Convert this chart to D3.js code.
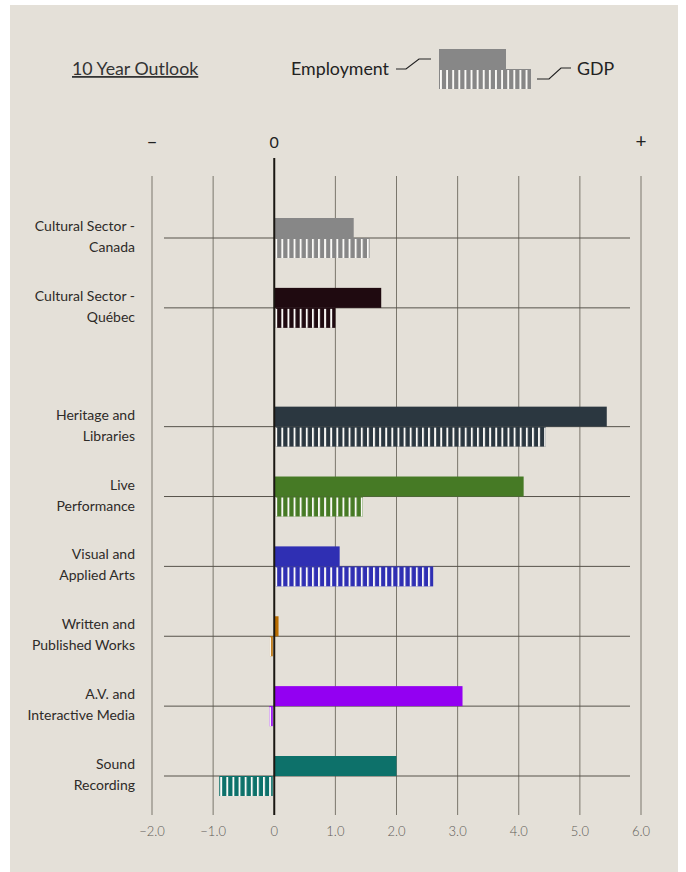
<!DOCTYPE html>
<html>
<head>
<meta charset="utf-8">
<script src="https://cdn.jsdelivr.net/npm/d3@7"></script>
<style>
  body { margin: 0; background: #fff; font-family: Lato, sans-serif; }
  svg { display: block; }
</style>
</head>
<body>
<div id="chart"></div>
<script>
// Sectors, top to bottom (two label lines each)
const categories = [
  ['Cultural Sector -', 'Canada'],
  ['Cultural Sector -', 'Québec'],
  ['Heritage and', 'Libraries'],
  ['Live', 'Performance'],
  ['Visual and', 'Applied Arts'],
  ['Written and', 'Published Works'],
  ['A.V. and', 'Interactive Media'],
  ['Sound', 'Recording']
];
// 'total' rows sit apart from the sub-sector rows
const groups = ['total', 'total', 'sub', 'sub', 'sub', 'sub', 'sub', 'sub'];
const employment = [1.3, 1.75, 5.44, 4.08, 1.07, 0.07, 3.08, 2.0];
const gdp = [1.56, 1.0, 4.44, 1.45, 2.6, -0.07, -0.08, -0.9];
const colors = ['#878787', '#1f0a10', '#2b3740', '#467a25', '#2f2fb3', '#b96d00', '#9300f2', '#0d716a'];
const xTicks = [-2, -1, 0, 1, 2, 3, 4, 5, 6];

const W = 686, H = 872;
const svg = d3.select('#chart').append('svg').attr('width', W).attr('height', H);

svg.append('rect').attr('x', 10).attr('y', 5).attr('width', 668).attr('height', H - 5).attr('fill', '#e4e0d8');

const x = d3.scaleLinear().domain([-2, 6]).range([152, 641]);
// row index with a gap between the totals and the sub-sectors
const rowIdx = categories.map((c, i) => i + (groups[i] === 'sub' ? 0.7 : 0));
const y = d3.scaleLinear().domain([0, d3.max(rowIdx)]).range([238, 776]);

const barH = 20;
const step = x(0.1) - x(0);
const stripeW = 1.9;

// GDP stripe overlay
const defs = svg.append('defs');
const pat = defs.append('pattern')
  .attr('id', 'stripes')
  .attr('patternUnits', 'userSpaceOnUse')
  .attr('x', x(0) + 1)
  .attr('y', 0)
  .attr('width', step)
  .attr('height', 10);
pat.append('rect').attr('x', 0).attr('y', 0).attr('width', stripeW).attr('height', 10).attr('fill', '#faf9f6');

// Vertical grid
const gridTop = 176, gridBot = 815;
svg.append('g').selectAll('line')
  .data(xTicks.filter(d => d !== 0))
  .join('line')
  .attr('x1', d => x(d)).attr('x2', d => x(d))
  .attr('y1', gridTop).attr('y2', gridBot)
  .attr('stroke', '#7a766c').attr('stroke-width', 1);

// Row lines
svg.append('g').selectAll('line')
  .data(rowIdx)
  .join('line')
  .attr('x1', 164).attr('x2', 630)
  .attr('y1', d => y(d)).attr('y2', d => y(d))
  .attr('stroke', '#57534b').attr('stroke-width', 1);

// Bottom axis labels
svg.append('g').selectAll('text')
  .data(xTicks)
  .join('text')
  .attr('x', d => x(d)).attr('y', 836)
  .attr('text-anchor', 'middle')
  .attr('font-size', 13).attr('font-weight', 300)
  .attr('fill', '#5e5b57')
  .text(d => d === 0 ? '0' : d3.format('.1f')(d));

// Top markers
svg.append('g').selectAll('text')
  .data([[-2, '–'], [0, '0'], [6, '+']])
  .join('text')
  .attr('x', d => x(d[0])).attr('y', 148)
  .attr('text-anchor', 'middle')
  .attr('font-size', d => d[0] === 0 ? 16 : 19)
  .attr('fill', '#222')
  .text(d => d[1]);

// Bars
const rows = svg.append('g').selectAll('g')
  .data(categories.map((c, i) => ({ label: c, emp: employment[i], gdp: gdp[i], color: colors[i], yy: y(rowIdx[i]) })))
  .join('g');

rows.append('rect')
  .attr('x', d => Math.min(x(0), x(d.emp)))
  .attr('y', d => d.yy - barH)
  .attr('width', d => Math.abs(x(d.emp) - x(0)))
  .attr('height', barH)
  .attr('fill', d => d.color);

rows.append('rect')
  .attr('x', d => d.gdp >= 0 ? x(0) + 1.5 : x(d.gdp))
  .attr('y', d => d.yy)
  .attr('width', d => Math.abs(x(d.gdp) - x(0)) - 1.5)
  .attr('height', barH)
  .attr('fill', d => d.color);

rows.append('rect')
  .attr('x', d => d.gdp >= 0 ? x(0) + 1.5 : x(d.gdp))
  .attr('y', d => d.yy + 1)
  .attr('width', d => Math.abs(x(d.gdp) - x(0)) - 1.5)
  .attr('height', barH - 1)
  .attr('fill', 'url(#stripes)');

// Category labels
rows.append('text')
  .attr('x', 135)
  .attr('text-anchor', 'end')
  .attr('font-size', 14)
  .attr('fill', '#2e2b28')
  .selectAll('tspan')
  .data(d => d.label.map((t, k) => ({ t, k, yy: d.yy })))
  .join('tspan')
  .attr('x', 135)
  .attr('y', d => d.yy + (d.k === 0 ? -7 : 14))
  .text(d => d.t);

// Zero line
svg.append('line')
  .attr('x1', x(0)).attr('x2', x(0))
  .attr('y1', 158).attr('y2', gridBot)
  .attr('stroke', '#1a1712').attr('stroke-width', 2);

// Title
svg.append('text')
  .attr('x', 72).attr('y', 75)
  .attr('font-size', 17.8)
  .attr('fill', '#333')
  .attr('text-decoration', 'underline')
  .text('10 Year Outlook');

// Legend
const lg = svg.append('g');
lg.append('text').attr('x', 389).attr('y', 75).attr('text-anchor', 'end')
  .attr('font-size', 17.8).attr('fill', '#222').text('Employment');
lg.append('path')
  .attr('d', 'M396,69 H406 L419,59 H431')
  .attr('fill', 'none').attr('stroke', '#222').attr('stroke-width', 1.2);
const legX = d3.scaleLinear().domain([0, 1]).range([439, 506]);
lg.append('rect').attr('x', legX(0)).attr('y', 49).attr('width', legX(1) - legX(0)).attr('height', 20).attr('fill', colors[0]);
lg.append('rect').attr('x', legX(0)).attr('y', 69).attr('width', 92).attr('height', 20).attr('fill', colors[0]);
const legStripes = d3.range(legX(0) + 1, legX(0) + 92, step);
lg.selectAll('.ls').data(legStripes).join('rect')
  .attr('x', d => d).attr('y', 70).attr('width', stripeW).attr('height', 19).attr('fill', '#faf9f6');
lg.append('path')
  .attr('d', 'M537,79 H549 L561,68 H571')
  .attr('fill', 'none').attr('stroke', '#222').attr('stroke-width', 1.2);
lg.append('text').attr('x', 577).attr('y', 75)
  .attr('font-size', 17.8).attr('fill', '#222').text('GDP');
</script>
</body>
</html>
